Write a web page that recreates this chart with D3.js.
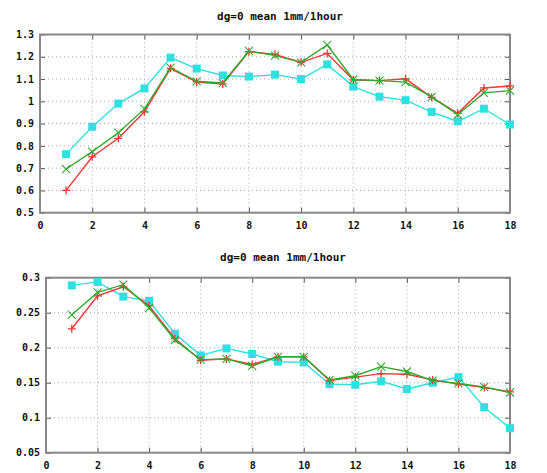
<!DOCTYPE html>
<html><head><meta charset="utf-8">
<script src="https://cdn.jsdelivr.net/npm/d3@7"></script>
<style>
html,body{margin:0;padding:0;background:#fff;}
text{font-family:"DejaVu Sans Mono",monospace;font-weight:bold;font-size:10px;fill:#111;}
</style></head><body>
<svg id="c" width="547" height="473"></svg>
<script>
const xs = d3.range(1, 19);
const xTicks = [0,2,4,6,8,10,12,14,16,18];

const titleTop = "dg=0 mean 1mm/1hour";
const redTop   = [0.600,0.751,0.834,0.953,1.148,1.087,1.078,1.223,1.211,1.175,1.215,1.096,1.093,1.101,1.018,0.946,1.060,1.069];
const greenTop = [0.696,0.774,0.859,0.966,1.151,1.090,1.082,1.226,1.205,1.175,1.253,1.098,1.093,1.086,1.020,0.940,1.038,1.048];
const cyanTop  = [0.763,0.886,0.990,1.058,1.196,1.147,1.116,1.111,1.120,1.100,1.166,1.066,1.021,1.005,0.952,0.910,0.967,0.896];
const yTicksTop = [0.5,0.6,0.7,0.8,0.9,1,1.1,1.2,1.3];

const titleBot = "dg=0 mean 1mm/1hour";
const redBot   = [0.227,0.274,0.287,0.260,0.213,0.182,0.184,0.176,0.187,0.187,0.153,0.158,0.163,0.162,0.154,0.148,0.143,0.137];
const greenBot = [0.247,0.279,0.290,0.257,0.211,0.183,0.184,0.174,0.187,0.187,0.154,0.160,0.173,0.166,0.153,0.149,0.144,0.136];
const cyanBot  = [0.289,0.294,0.273,0.267,0.220,0.189,0.199,0.191,0.180,0.179,0.148,0.147,0.152,0.141,0.150,0.158,0.115,0.085];
const yTicksBot = [0.05,0.1,0.15,0.2,0.25,0.3];

const COL = {red:"#ff3333", green:"#2eaa2e", cyan:"#2ee0e0"};
const svg = d3.select("#c");

function panel(cfg){
  const g = svg.append("g");
  const x = d3.scaleLinear().domain([0,18]).range([cfg.left, cfg.right]);
  const y = d3.scaleLinear().domain(cfg.ydom).range([cfg.bottom, cfg.top]);
  // grid
  g.append("g").selectAll("line").data(xTicks.slice(1,-1)).join("line")
    .attr("x1",d=>x(d)).attr("x2",d=>x(d)).attr("y1",cfg.top).attr("y2",cfg.bottom)
    .attr("stroke","#aaa").attr("stroke-width",1).attr("stroke-dasharray","1,3");
  g.append("g").selectAll("line").data(cfg.yticks.slice(1,-1)).join("line")
    .attr("x1",cfg.left).attr("x2",cfg.right).attr("y1",d=>y(d)).attr("y2",d=>y(d))
    .attr("stroke","#aaa").attr("stroke-width",1).attr("stroke-dasharray","1,3");
  // axes (ticks inward, labels)
  const ax = d3.axisBottom(x).tickValues(xTicks).tickSize(5).tickFormat(d3.format("d"));
  const ay = d3.axisLeft(y).tickValues(cfg.yticks).tickSize(5).tickFormat(d=>String(+d.toFixed(2)));
  const gx = g.append("g").attr("transform",`translate(0,${cfg.bottom})`).call(ax);
  gx.selectAll(".tick line").attr("y2",-5).attr("stroke","#555");
  gx.selectAll(".tick text").attr("y",9);
  gx.select(".domain").remove();
  const gy = g.append("g").attr("transform",`translate(${cfg.left},0)`).call(ay);
  gy.selectAll(".tick line").attr("x2",5).attr("stroke","#555");
  gy.selectAll(".tick text").attr("x",-6);
  gy.select(".domain").remove();
  const gx2 = g.append("g").attr("transform",`translate(0,${cfg.top})`).call(d3.axisTop(x).tickValues(xTicks).tickSize(0).tickFormat(""));
  gx2.selectAll(".tick line").attr("y2",5).attr("stroke","#555");
  gx2.select(".domain").remove();
  const gy2 = g.append("g").attr("transform",`translate(${cfg.right},0)`).call(d3.axisRight(y).tickValues(cfg.yticks).tickSize(0).tickFormat(""));
  gy2.selectAll(".tick line").attr("x2",-5).attr("stroke","#555");
  gy2.select(".domain").remove();
  g.selectAll("text").style("font-family","'DejaVu Sans Mono',monospace").style("font-weight","bold").style("font-size","10px").attr("fill","#111");
  // frame
  g.append("rect").attr("x",cfg.left).attr("y",cfg.top).attr("width",cfg.right-cfg.left).attr("height",cfg.bottom-cfg.top)
    .attr("fill","none").attr("stroke","#888").attr("stroke-width",2);
  // title
  g.append("text").attr("x",(cfg.left+cfg.right)/2+5).attr("y",cfg.titleY).attr("text-anchor","middle")
    .style("font-size","11px").text(cfg.title);

  const line = d3.line().x((d,i)=>x(xs[i])).y(d=>y(d));
  function series(vals,color,marker){
    g.append("path").datum(vals).attr("d",line).attr("fill","none").attr("stroke",color).attr("stroke-width",1.4);
    const m = g.append("g");
    vals.forEach((v,i)=>{
      const cx=x(xs[i]), cy=y(v);
      if(marker==="sq"){
        m.append("rect").attr("x",cx-4).attr("y",cy-4).attr("width",8).attr("height",8).attr("fill",color);
      } else if(marker==="plus"){
        m.append("path").attr("d",`M${cx-4},${cy}H${cx+4}M${cx},${cy-4}V${cy+4}`).attr("stroke",color).attr("stroke-width",1.3);
      } else {
        m.append("path").attr("d",`M${cx-4},${cy-4}L${cx+4},${cy+4}M${cx-4},${cy+4}L${cx+4},${cy-4}`).attr("stroke",color).attr("stroke-width",1.1);
      }
    });
  }
  series(cfg.cyan,COL.cyan,"sq");
  series(cfg.red,COL.red,"plus");
  series(cfg.green,COL.green,"x");
}

panel({left:40,right:510,top:34.5,bottom:212.7,ydom:[0.5,1.3],yticks:yTicksTop,title:titleTop,titleY:20,
       red:redTop,green:greenTop,cyan:cyanTop});
panel({left:46,right:510,top:277.7,bottom:452.7,ydom:[0.05,0.3],yticks:yTicksBot,title:titleBot,titleY:261,
       red:redBot,green:greenBot,cyan:cyanBot});
</script>
</body></html>
